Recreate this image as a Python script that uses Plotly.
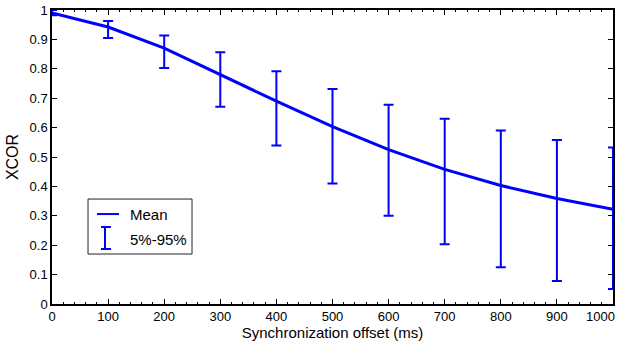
import plotly.graph_objects as go

offsets = [0, 100, 200, 300, 400, 500, 600, 700, 800, 900, 1000]
mean_xcor = [0.99, 0.942, 0.870, 0.780, 0.690, 0.603, 0.525, 0.458, 0.403, 0.359, 0.322]
p95 = [1.0, 0.963, 0.913, 0.856, 0.792, 0.731, 0.678, 0.630, 0.590, 0.558, 0.532]
p5 = [0.982, 0.905, 0.803, 0.671, 0.539, 0.410, 0.300, 0.203, 0.125, 0.078, 0.051]

x_ticks = [0, 100, 200, 300, 400, 500, 600, 700, 800, 900, 1000]
x_tick_labels = ["0", "100", "200", "300", "400", "500", "600", "700", "800", "900", "1000"]
y_ticks = [0, 0.1, 0.2, 0.3, 0.4, 0.5, 0.6, 0.7, 0.8, 0.9, 1]
y_tick_labels = ["0", "0.1", "0.2", "0.3", "0.4", "0.5", "0.6", "0.7", "0.8", "0.9", "1"]

blue = "#0000FF"
font = "Liberation Sans, Arial, Helvetica, sans-serif"

fig = go.Figure()
fig.add_trace(go.Scatter(
    x=offsets, y=mean_xcor, mode="lines", name="Mean",
    line=dict(color=blue, width=3), showlegend=False, cliponaxis=False,
))
fig.add_trace(go.Scatter(
    x=offsets, y=mean_xcor, mode="markers", name="5%-95%",
    marker=dict(size=1, color="rgba(0,0,0,0)"), cliponaxis=False,
    error_y=dict(
        type="data", symmetric=False,
        array=[u - m for u, m in zip(p95, mean_xcor)],
        arrayminus=[m - l for m, l in zip(mean_xcor, p5)],
        color=blue, thickness=2, width=5,
    ),
    showlegend=False,
))

# Manual legend (paper coordinates of the legend box)
fig.add_shape(type="rect", xref="paper", yref="paper", x0=0.0642, x1=0.2496, y0=0.170, y1=0.357,
              line=dict(color="#222222", width=1), fillcolor="white")
fig.add_shape(type="line", xref="paper", yref="paper", x0=0.0802, x1=0.1194, y0=0.306, y1=0.306,
              line=dict(color=blue, width=2))
fig.add_shape(type="line", xref="paper", yref="paper", x0=0.0945, x1=0.0945, y0=0.187, y1=0.262,
              line=dict(color=blue, width=2))
fig.add_shape(type="line", xref="paper", yref="paper", x0=0.0873, x1=0.1052, y0=0.262, y1=0.262,
              line=dict(color=blue, width=2))
fig.add_shape(type="line", xref="paper", yref="paper", x0=0.0873, x1=0.1052, y0=0.187, y1=0.187,
              line=dict(color=blue, width=2))
fig.add_annotation(xref="paper", yref="paper", x=0.139, y=0.306, text="Mean", showarrow=False,
                   xanchor="left", yanchor="middle", xshift=-2,
                   font=dict(family=font, size=15, color="black"))
fig.add_annotation(xref="paper", yref="paper", x=0.139, y=0.221, text="5%-95%", showarrow=False,
                   xanchor="left", yanchor="middle", xshift=-2,
                   font=dict(family=font, size=15, color="black"))

# The last x tick label is right-aligned at the axis end so it stays inside the figure
shown_x_labels = x_tick_labels[:-1] + [""]
fig.add_annotation(xref="x", yref="paper", x=x_ticks[-1], y=0, text=x_tick_labels[-1],
                   showarrow=False, xanchor="right", yanchor="middle", xshift=4, yshift=-12,
                   font=dict(family=font, size=13, color="black"))

axis_common = dict(
    showline=True, linecolor="black", linewidth=1.5, mirror="ticks",
    ticks="inside", ticklen=5, tickwidth=1, tickcolor="black",
    showgrid=False, zeroline=False, automargin=False,
    tickfont=dict(family=font, size=13, color="black"),
)
fig.update_xaxes(
    range=[0, 1000], tickvals=x_ticks, ticktext=shown_x_labels,
    title=dict(text="Synchronization offset (ms)", font=dict(family=font, size=15, color="black"), standoff=0),
    minor=dict(ticks="inside", ticklen=2, dtick=20, tickcolor="black", tickwidth=1),
    **axis_common,
)
fig.update_yaxes(
    range=[0, 1], tickvals=y_ticks, ticktext=y_tick_labels,
    title=dict(text="XCOR", font=dict(family=font, size=16, color="black"), standoff=7),
    **axis_common,
)
fig.update_layout(
    width=618, height=341,
    margin=dict(l=52, r=5, t=10, b=37),
    plot_bgcolor="white", paper_bgcolor="white",
    font=dict(family=font, size=13, color="black"),
)
fig.write_html("out.html", config={"displayModeBar": False},
               post_script="document.body.style.margin='0';document.body.style.overflow='hidden';")
